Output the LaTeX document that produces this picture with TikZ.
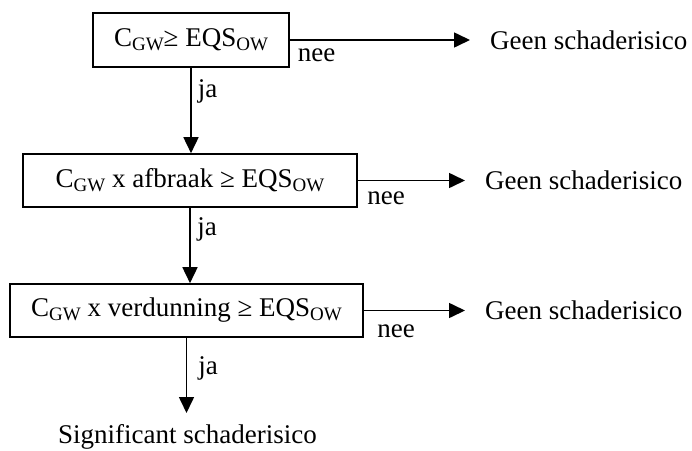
\documentclass[tikz,border=0pt]{standalone}
\usepackage{fontspec}
\setmainfont{Liberation Serif}
\usetikzlibrary{arrows.meta}
\newcommand{\lowsub}[1]{\raisebox{-0.14em}{\fontsize{19}{19}\selectfont #1}}
\begin{document}
\begin{tikzpicture}[x=1pt,y=-1pt,font=\fontsize{27}{32}\selectfont,
  box/.style={draw,line width=1.6pt,inner sep=0pt,minimum height=54pt},
  arr/.style={line width=1.6pt,-{Triangle[length=16pt,width=15pt]}},
  lab/.style={inner sep=0pt},
  res/.style={anchor=west,inner xsep=20pt,inner ysep=0pt}]
\useasboundingbox (0,0) rectangle (692,450);
\node[box,minimum width=196pt] (b1) at (191,40) {C\lowsub{GW}≥ EQS\lowsub{OW}};
\node[box,minimum width=334pt,minimum height=53pt] (b2) at (190,180.5) {C\lowsub{GW} x afbraak ≥ EQS\lowsub{OW}};
\node[box,minimum width=353pt,minimum height=53pt] (b3) at (186.5,310.5) {C\lowsub{GW} x verdunning ≥ EQS\lowsub{OW}};
\node[res] (g1) at (470,40) {Geen schaderisico};
\node[res] (g2) at (465,180.5) {Geen schaderisico};
\node[res] (g3) at (465,310.5) {Geen schaderisico};
\node[lab] (sig) at (187.5,437) {Significant schaderisico};
\coordinate (t) at (187.5,413);
\draw[arr] (b1.east) -- (g1.west);
\draw[arr] (b2.east) -- (g2.west);
\draw[arr] (b3.east) -- (g3.west);
\draw[arr] (b1.south) -- (b1.south |- b2.north);
\draw[arr] (b2.south) -- (b2.south |- b3.north);
\draw[arr] (b3.south) -- (b3.south |- t);
\node[lab] (n1) at (316.5,55) {nee};
\node[lab] (n2) at (386,198.5) {nee};
\node[lab] (n3) at (396,331.5) {nee};
\node[lab] (j1) at (207.5,91.5) {ja};
\node[lab] (j2) at (207,229) {ja};
\node[lab] (j3) at (208,368) {ja};
\end{tikzpicture}
\end{document}
